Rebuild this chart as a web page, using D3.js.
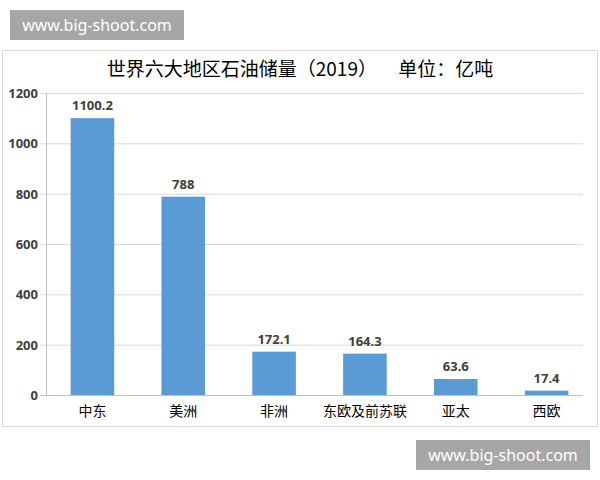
<!DOCTYPE html><html><head><meta charset="utf-8"><script src="https://cdn.jsdelivr.net/npm/d3@7"></script>
<style>body{margin:0;background:#fff}</style></head><body><svg id="c" width="600" height="480"></svg>
<script>
const categories=["中东","美洲","非洲","东欧及前苏联","亚太","西欧"];
const values=[1100.2,788,172.1,164.3,63.6,17.4];
const labels=["1100.2","788","172.1","164.3","63.6","17.4"];
const ticks=[0,200,400,600,800,1000,1200];
const svg=d3.select("#c");
svg.append("rect").attr("x",2.5).attr("y",50.5).attr("width",595).attr("height",376).attr("fill","#fff").attr("stroke","#d9d9d9");
const x=d3.scaleBand().domain(categories).range([47,592]).paddingInner(0.52).paddingOuter(0.26);
const y=d3.scaleLinear().domain([0,1200]).range([395,93]);
svg.append("g").selectAll("line").data(ticks).join("line").attr("x1",40).attr("x2",583).attr("y1",d=>y(d)+.5).attr("y2",d=>y(d)+.5).attr("stroke",d=>d===0?"#bfbfbf":"#d9d9d9");
svg.append("line").attr("x1",46.5).attr("x2",46.5).attr("y1",93).attr("y2",395).attr("stroke","#bfbfbf");
svg.append("g").selectAll("text").data(ticks).join("text").attr("x",38).attr("y",d=>y(d)+5).attr("text-anchor","end").attr("font-family","Noto Sans").attr("font-weight","bold").attr("font-size",13).attr("fill","#404040").text(d=>d);
svg.append("g").selectAll("rect").data(values).join("rect").attr("x",(d,i)=>x(categories[i])).attr("width",x.bandwidth()).attr("y",d=>y(d)).attr("height",d=>395-y(d)).attr("fill","#5b9bd5");
svg.append("g").selectAll("text").data(values).join("text").attr("x",(d,i)=>x(categories[i])+x.bandwidth()/2).attr("y",d=>y(d)-8).attr("text-anchor","middle").attr("font-family","Noto Sans").attr("font-weight","bold").attr("font-size",13).attr("fill","#404040").text((d,i)=>labels[i]);
svg.append("g").selectAll("text").data(categories).join("text").attr("x",d=>x(d)+x.bandwidth()/2).attr("y",416).attr("text-anchor","middle").attr("font-family","Noto Sans CJK SC").attr("font-size",14).attr("fill","#000").text(d=>d);
svg.append("text").attr("x",300).attr("y",76).attr("text-anchor","middle").attr("font-family","Noto Sans CJK SC").attr("font-size",19).attr("fill","#000").attr("xml:space","preserve").text("世界六大地区石油储量（2019）     单位：亿吨");
function wm(x0,y0){svg.append("rect").attr("x",x0).attr("y",y0).attr("width",174).attr("height",30).attr("fill","#a6a6a6");
svg.append("text").attr("x",x0+87).attr("y",y0+21).attr("text-anchor","middle").attr("font-family","Noto Sans").attr("font-size",16).attr("fill","#fff").text("www.big-shoot.com");}
wm(10,10);wm(416,440);
</script></body></html>
